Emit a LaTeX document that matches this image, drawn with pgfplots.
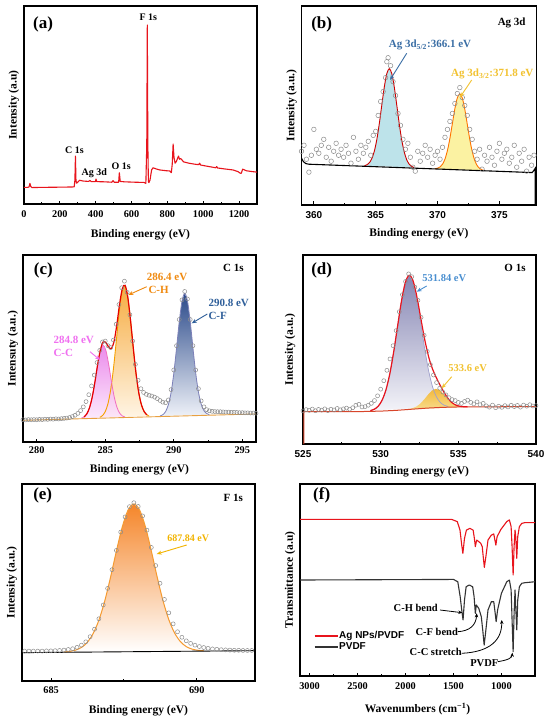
\documentclass[border=0pt]{standalone}
\usepackage{pgfplots}
\pgfplotsset{compat=1.18}
\usepackage{fontspec}
\setmainfont{Liberation Serif}
\newfontfamily\sansfont{Liberation Sans}
\usetikzlibrary{arrows.meta}

\definecolor{redA}{HTML}{E8141C}
\definecolor{circ}{HTML}{8C8C8C}
\definecolor{cyanF}{HTML}{BDE3EA}
\definecolor{yelF}{HTML}{FBF2A2}
\definecolor{blueT}{HTML}{3A6EA5}
\definecolor{yelT}{HTML}{F2C230}
\definecolor{ccTop}{HTML}{E878E8}
\definecolor{ccBot}{HTML}{FCE6FC}
\definecolor{ccLine}{HTML}{F06EC0}
\definecolor{chTop}{HTML}{F6A42E}
\definecolor{chBot}{HTML}{FFF4E2}
\definecolor{chLine}{HTML}{F5A000}
\definecolor{cfTop}{HTML}{2B4A8A}
\definecolor{cfBot}{HTML}{EEF1F8}
\definecolor{cfLine}{HTML}{7C80B8}
\definecolor{baseO}{HTML}{E8A040}
\definecolor{ccT}{HTML}{F070F0}
\definecolor{chT}{HTML}{F08A10}
\definecolor{cfT}{HTML}{2F5F9A}
\definecolor{oTop}{HTML}{8686B4}
\definecolor{oBot}{HTML}{F3F3F8}
\definecolor{oLine}{HTML}{A0A0CC}
\definecolor{o2Top}{HTML}{F2B83A}
\definecolor{o2Bot}{HTML}{F8DC8C}
\definecolor{oBase}{HTML}{D8452A}
\definecolor{oBlueT}{HTML}{4A8FD0}
\definecolor{fTop}{HTML}{F5862A}
\definecolor{fLine}{HTML}{F59A30}
\definecolor{fT}{HTML}{F2B400}
\definecolor{darkL}{HTML}{333333}

\newcommand\labfont{\bfseries\fontsize{11.5}{13}\selectfont}
\newcommand\tickfont{\bfseries\fontsize{10.3}{12}\selectfont}
\newcommand\stickfont{\sansfont\bfseries\fontsize{10}{12}\selectfont}
\newcommand\ann[1]{\bfseries\fontsize{#1}{#1}\selectfont}

\pgfplotsset{
  panel/.style={
    scale only axis, anchor=south west, ymin=0, ymax=100,
    axis line style={line width=1.3pt},
    tick align=inside, xtick pos=left, ytick=\empty,
    minor x tick num=1,
    major tick length=3.5pt, minor tick length=2pt,
    tick style={black, line width=0.9pt},
    scaled x ticks=false,
    /pgf/number format/1000 sep={},
    /pgf/number format/assume math mode=true,
    xticklabel style={font=\tickfont},
    xlabel style={font=\labfont},
    ylabel style={font=\labfont, at={([xshift=-10pt]axis description cs:0,0.5)}, anchor=center},
    clip=true,
  },
  xlab/.style={xlabel style={at={([yshift=-#1]axis description cs:0.5,0)}, anchor=center}},
  tlab/.style={xticklabel style={yshift=-#1}},
  dots/.style={only marks, mark=o, mark size=#1, mark options={draw=circ, line width=0.5pt}},
}

\begin{document}
\begin{tikzpicture}
\path[use as bounding box, fill=white] (0,0) rectangle (550pt,-722pt);

% ---------------- (a) ----------------
\begin{axis}[panel, at={(24pt,-204pt)}, width=233pt, height=198pt,
  xmin=0, xmax=1300, xtick={0,200,...,1200}, xlab=31pt, tlab=3pt,
  xlabel={Binding energy (eV)}, ylabel={Intensity (a.u)}]
\addplot[color=redA, line width=1.1pt, line join=round] coordinates {
(0,8.4) (20,8.4) (28,8.6) (33,10.4) (38,8.8) (45,8.3) (100,8.4) (200,8.5) (270,8.6)
(280,8.7) (284,12) (287,24.2) (290,12) (293,10.5) (300,11.0) (310,12.0) (330,11.6)
(360,11.4) (368,11.9) (375,11.3) (398,11.3) (402,12.6) (406,11.3) (450,11.2) (490,11.0)
(497,11.8) (503,11.0) (528,11.0) (532,15.8) (537,11.4) (560,11.2) (620,11.0) (670,10.9)
(680,10.4) (685,30) (688,90.4) (691,30) (694,11.3) (697,10.8) (703,12.1) (712,17.2)
(720,18.3) (738,17.7) (757,17.2) (794,16.8) (813,16.7) (822,15.8) (827,20) (832,30.3)
(837,23.5) (843,20.6) (850,21.5) (857,23.1) (862,24.2) (868,22.6) (874,23.0) (880,22.4)
(890,21.3) (920,20.6) (960,20.0) (975,19.9) (980,20.6) (985,19.7) (1020,19.1) (1070,18.3)
(1075,18.9) (1080,18.2) (1120,17.7) (1166,17.2) (1195,16.3) (1205,15.6) (1212,15.5)
(1220,17.6) (1228,17.3) (1240,16.8) (1270,16.4) (1300,16.1)};
\end{axis}

% ---------------- (b) ----------------
\begin{axis}[panel, at={(301.5pt,-205pt)}, width=235pt, height=199pt,
  xmin=359, xmax=378, xtick={360,365,370,375}, xlab=29pt, tlab=3pt,
  xticklabel style={font=\stickfont},
  xlabel={Binding energy (eV)}, ylabel={Intensity (a.u.)}]
\addplot[draw=none, fill=cyanF] coordinates {
(364.1,19.76) (364.3,20.23) (364.5,21.32) (364.7,23.50) (364.9,27.32) (365.1,33.27)
(365.3,41.29) (365.5,50.60) (365.7,59.51) (365.9,66.09) (366.1,68.48) (366.3,66.00)
(366.5,59.32) (366.7,50.32) (366.9,40.92) (367.1,32.80) (367.3,26.77) (367.5,22.85)
(367.7,20.58) (367.9,19.40) (368.1,18.83)};
\addplot[draw=none, fill=yelF] coordinates {
(369.8,18.27) (370.0,18.49) (370.2,19.12) (370.4,20.49) (370.6,23.09) (370.8,27.40)
(371.0,33.54) (371.2,40.99) (371.4,48.35) (371.6,53.84) (371.8,55.86) (372.0,53.75)
(372.2,48.16) (372.4,40.71) (372.6,33.17) (372.8,26.94) (373.0,22.54) (373.2,19.84)
(373.4,18.38) (373.6,17.66) (373.8,17.34)};
\addplot[color=red!80!black, line width=0.9pt, smooth] coordinates {
(364.1,19.76) (364.3,20.23) (364.5,21.32) (364.7,23.50) (364.9,27.32) (365.1,33.27)
(365.3,41.29) (365.5,50.60) (365.7,59.51) (365.9,66.09) (366.1,68.48) (366.3,66.00)
(366.5,59.32) (366.7,50.32) (366.9,40.92) (367.1,32.80) (367.3,26.77) (367.5,22.85)
(367.7,20.58) (367.9,19.40) (368.1,18.83)};
\addplot[color=orange!90!red, line width=0.9pt, smooth] coordinates {
(369.8,18.27) (370.0,18.49) (370.2,19.12) (370.4,20.49) (370.6,23.09) (370.8,27.40)
(371.0,33.54) (371.2,40.99) (371.4,48.35) (371.6,53.84) (371.8,55.86) (372.0,53.75)
(372.2,48.16) (372.4,40.71) (372.6,33.17) (372.8,26.94) (373.0,22.54) (373.2,19.84)
(373.4,18.38) (373.6,17.66) (373.8,17.34)};
\addplot[color=black, line width=1.1pt] coordinates {
(359.0,23.5) (359.15,21.8) (359.35,20.8) (359.6,20.5) (377.65,16.3) (377.8,17.5) (377.9,18.5) (377.9,0)};
\addplot[dots=2.3pt] coordinates {
(359.0,27) (359.2,30) (359.4,23) (359.6,16.5) (359.8,25) (360.0,38) (360.2,28) (360.4,26)
(360.6,30) (360.8,33) (361.0,24) (361.2,29) (361.4,22) (361.6,27) (361.8,31) (362.0,25)
(362.2,28) (362.4,24) (362.6,30) (362.8,26) (363.0,21) (363.2,34) (363.4,27) (363.6,23)
(363.8,30) (364.0,26) (364.2,29) (364.4,32) (364.6,25) (364.8,35) (365.0,37) (365.2,45)
(365.4,52) (365.6,57) (365.8,64) (365.9,72) (366.0,74) (366.2,70) (366.4,62) (366.6,55)
(366.8,46) (367.0,40) (367.2,33) (367.4,28) (367.6,31) (367.8,24) (368.0,19) (368.2,17)
(368.4,27) (368.6,22) (368.8,26) (369.0,30) (369.2,24) (369.4,28) (369.6,21) (369.8,25)
(370.0,27) (370.2,23) (370.4,29) (370.6,34) (370.8,38) (371.0,42) (371.2,46) (371.4,51)
(371.6,56) (371.8,59) (372.0,54) (372.2,50) (372.4,45) (372.6,38) (372.8,33) (373.0,27)
(373.2,23) (373.4,28) (373.6,18) (373.8,25) (374.0,22) (374.2,29) (374.4,24) (374.6,20)
(374.8,27) (375.0,31) (375.2,23) (375.4,26) (375.6,28) (375.8,21) (376.0,24) (376.2,30)
(376.4,19) (376.6,26) (376.8,22) (377.0,28) (377.2,17) (377.4,24) (377.6,20) (377.8,25)};
\end{axis}

% ---------------- (c) ----------------
\begin{axis}[panel, at={(23pt,-442pt)}, width=233pt, height=187pt,
  xmin=279, xmax=296, xtick={280,285,290,295}, xlab=27.6pt, tlab=1.5pt,
  xlabel={Binding energy (eV)}, ylabel={Intensuty (a.u.)}]
\addplot[draw=none, top color=chTop, bottom color=chBot, fill opacity=0.9] coordinates {
(284.6,13.20) (284.8,14.13) (285.0,16.25) (285.2,20.52) (285.4,28.04) (285.6,39.29)
(285.8,53.50) (286.0,68.13) (286.2,79.31) (286.4,83.58) (286.6,79.39) (286.8,68.29)
(287.0,53.74) (287.2,39.61) (287.4,28.44) (287.6,21.00) (287.8,16.81) (288.0,14.77) (288.2,13.92)};
\addplot[draw=none, top color=ccTop, bottom color=ccBot, fill opacity=0.85] coordinates {
(283.25,12.73) (283.45,13.39) (283.65,14.98) (283.85,18.26) (284.05,24.00) (284.25,32.15)
(284.45,41.36) (284.65,48.84) (284.85,51.77) (285.05,48.92) (285.25,41.52) (285.45,32.39)
(285.65,24.32) (285.85,18.66) (286.05,15.46) (286.25,13.95) (286.45,13.37)};
\addplot[draw=none, top color=cfTop, bottom color=cfBot] coordinates {
(289.0,13.91) (289.2,14.59) (289.4,16.25) (289.6,19.79) (289.8,26.29) (290.0,36.56)
(290.2,49.99) (290.4,64.26) (290.6,75.32) (290.8,79.56) (291.0,75.40) (291.2,64.42)
(291.4,50.23) (291.6,36.88) (291.8,26.69) (292.0,20.27) (292.2,16.81) (292.4,15.23) (292.6,14.63)};
\addplot[color=chLine, line width=0.9pt, smooth] coordinates {
(284.6,13.20) (284.8,14.13) (285.0,16.25) (285.2,20.52) (285.4,28.04) (285.6,39.29)
(285.8,53.50) (286.0,68.13) (286.2,79.31) (286.4,83.58) (286.6,79.39) (286.8,68.29)
(287.0,53.74) (287.2,39.61) (287.4,28.44) (287.6,21.00) (287.8,16.81) (288.0,14.77) (288.2,13.92)};
\addplot[color=ccLine, line width=0.8pt, smooth] coordinates {
(283.25,12.73) (283.45,13.39) (283.65,14.98) (283.85,18.26) (284.05,24.00) (284.25,32.15)
(284.45,41.36) (284.65,48.84) (284.85,51.77) (285.05,48.92) (285.25,41.52) (285.45,32.39)
(285.65,24.32) (285.85,18.66) (286.05,15.46) (286.25,13.95) (286.45,13.37)};
\addplot[color=cfLine, line width=0.8pt, smooth] coordinates {
(289.0,13.91) (289.2,14.59) (289.4,16.25) (289.6,19.79) (289.8,26.29) (290.0,36.56)
(290.2,49.99) (290.4,64.26) (290.6,75.32) (290.8,79.56) (291.0,75.40) (291.2,64.42)
(291.4,50.23) (291.6,36.88) (291.8,26.69) (292.0,20.27) (292.2,16.81) (292.4,15.23) (292.6,14.63)};
\addplot[color=baseO, line width=0.9pt] coordinates {(279,11.6) (296,15.0)};
\addplot[color=red!90!black, line width=1.2pt, smooth] coordinates {
(283.45,13.39) (283.65,14.98) (283.85,18.26) (284.05,24.0) (284.25,32.21) (284.45,41.56)
(284.65,49.48) (284.85,53.52) (285.05,53.19) (285.25,50.73) (285.45,49.98) (285.65,54.0)
(285.85,62.93) (286.05,73.86) (286.25,82.05) (286.45,83.77) (286.65,77.2) (286.85,64.77)
(287.05,50.01) (287.25,36.45) (287.45,26.19) (287.65,19.70) (287.85,16.15) (288.05,14.48)};
\addplot[dots=2pt] coordinates {
(279.0,11.9) (279.2,11.8) (279.4,12.0) (279.6,11.9) (279.8,12.0) (280.0,11.9) (280.2,12.1)
(280.4,12.0) (280.6,12.2) (280.8,12.1) (281.0,12.3) (281.2,12.2) (281.4,12.4) (281.6,12.3)
(281.8,12.5) (282.0,12.6) (282.2,12.8) (282.4,13.1) (282.6,13.6) (282.8,14.3) (283.0,15.3)
(283.2,16.8) (283.4,18.8) (283.6,21.6) (283.8,25.3) (284.0,30.0) (284.2,35.8) (284.4,42.5)
(284.6,49.0) (284.8,53.5) (285.0,54.0) (285.2,51.5) (285.4,50.5) (285.6,54.5) (285.8,63.0)
(286.0,73.5) (286.2,82.5) (286.4,86.0) (286.6,80.0) (286.8,68.0) (287.0,54.0) (287.2,41.5)
(287.4,33.0) (287.6,28.5) (287.8,26.5) (288.0,25.5) (288.2,25.0) (288.4,24.6) (288.6,24.0)
(288.8,23.2) (289.0,22.2) (289.2,21.3) (289.4,21.0) (289.6,22.5) (289.8,28.0) (290.0,38.5)
(290.2,51.5) (290.4,65.5) (290.6,76.0) (290.8,80.5) (291.0,76.5) (291.2,65.5) (291.4,51.5)
(291.6,38.5) (291.8,28.5) (292.0,22.0) (292.2,18.8) (292.4,17.3) (292.6,16.7) (292.8,16.4)
(293.0,16.3) (293.2,16.2) (293.4,16.2) (293.6,16.1) (293.8,16.0) (294.0,16.0) (294.2,15.9)
(294.4,15.9) (294.6,15.8) (294.8,15.7) (295.0,15.7) (295.2,15.6) (295.4,15.6) (295.6,15.5)
(295.8,15.5) (296.0,15.4)};
\end{axis}

% ---------------- (d) ----------------
\begin{axis}[panel, at={(303pt,-444pt)}, width=233pt, height=189pt,
  xmin=525, xmax=540, xtick={525,530,535,540}, xlab=28pt, tlab=3pt,
  xticklabel style={font=\stickfont},
  ylabel style={at={([xshift=-13pt]axis description cs:0,0.5)}},
  xlabel={Binding energy (eV)}, ylabel={Intensity (a.u.)}]
\addplot[draw=none, top color=oTop, bottom color=oBot] coordinates {
(529.34,17.67) (529.59,18.40) (529.84,19.98) (530.09,23.15) (530.34,28.64) (530.59,37.22)
(530.84,48.85) (531.09,62.38) (531.34,75.65) (531.59,85.42) (531.84,89.10) (532.09,85.72)
(532.34,76.25) (532.59,63.39) (532.84,50.11) (533.09,38.62) (533.34,30.24) (533.59,24.95)
(533.84,21.98) (534.09,20.52) (534.34,19.89)};
\addplot[draw=none, top color=o2Top, bottom color=o2Bot] coordinates {
(531.55,18.26) (531.80,18.52) (532.05,18.97) (532.30,19.82) (532.55,21.32) (532.80,23.56)
(533.05,26.09) (533.30,28.29) (533.55,29.22) (533.80,28.49) (534.05,26.49) (534.30,24.05)
(534.55,22.01) (534.80,20.71) (535.05,20.04) (535.30,19.75) (535.55,19.66)};
\addplot[color=oLine, line width=0.7pt, smooth] coordinates {
(529.34,17.67) (529.59,18.40) (529.84,19.98) (530.09,23.15) (530.34,28.64) (530.59,37.22)
(530.84,48.85) (531.09,62.38) (531.34,75.65) (531.59,85.42) (531.84,89.10) (532.09,85.72)
(532.34,76.25) (532.59,63.39) (532.84,50.11) (533.09,38.62) (533.34,30.24) (533.59,24.95)
(533.84,21.98) (534.09,20.52) (534.34,19.89)};
\addplot[color=oBase, line width=1pt] coordinates {
(525.06,0) (525.06,17.1) (529,17.2) (530,17.4) (531,17.8) (532,18.4) (533,19.0) (534,19.4) (535,19.6) (540,19.8)};
\addplot[color=redA, line width=1.2pt, smooth] coordinates {
(529.34,17.67) (529.59,18.40) (529.84,19.98) (530.09,23.15) (530.34,28.64) (530.59,37.22)
(530.84,48.85) (531.09,62.38) (531.34,75.66) (531.59,85.47) (531.84,89.27) (532.09,86.24)
(532.34,77.56) (532.59,66.17) (532.84,55.07) (533.09,46.07) (533.34,39.64) (533.59,34.95)
(533.84,30.88) (534.09,27.19) (534.34,24.09) (534.59,21.89) (534.84,20.59) (535.09,19.97)
(535.34,19.73) (535.6,19.65)};
\addplot[dots=2pt] coordinates {
(525.0,17.5) (525.2,18.2) (525.4,17.8) (525.6,18.5) (525.8,17.6) (526.0,18.3) (526.2,17.9)
(526.4,18.6) (526.6,17.7) (526.8,18.4) (527.0,18.0) (527.2,18.8) (527.4,18.1) (527.6,18.6)
(527.8,19.0) (528.0,18.4) (528.2,19.2) (528.4,20.5) (528.6,21.0) (528.8,19.6) (529.0,19.8)
(529.2,20.5) (529.4,21.5) (529.6,23.0) (529.8,25.5) (530.0,29) (530.2,33.5) (530.4,39)
(530.6,45) (530.8,52) (531.0,60) (531.2,70) (531.4,79) (531.6,86) (531.8,90) (532.0,88.5)
(532.2,83) (532.4,76) (532.6,67) (532.8,57.5) (533.0,49) (533.2,42) (533.4,36.5) (533.6,32.5)
(533.8,29.5) (534.0,27.5) (534.2,26) (534.4,24.5) (534.6,23.5) (534.8,23) (535.0,22)
(535.2,21.5) (535.4,22.5) (535.6,23.2) (535.8,22.0) (536.0,21.2) (536.2,22.3) (536.4,20.8)
(536.6,21.5) (536.8,20.2) (537.0,19.5) (537.2,20.6) (537.4,19.2) (537.6,20.0) (537.8,19.4)
(538.0,20.3) (538.2,19.6) (538.4,20.5) (538.6,19.8) (538.8,20.4) (539.0,19.5) (539.2,20.6)
(539.4,20.0) (539.6,20.8) (539.8,20.1) (540.0,20.3)};
\end{axis}

% ---------------- (e) ----------------
\begin{axis}[panel, at={(22pt,-681pt)}, width=233pt, height=197pt,
  xmin=684, xmax=692, xtick={685,690}, xlab=30pt, tlab=2pt,
  xlabel={Binding energy (eV)}, ylabel={Intensity (a.u.)}]
\addplot[draw=none, top color=fTop, bottom color=white] coordinates {
(685.44,14.75) (685.64,15.04) (685.84,15.69) (686.04,17.03) (686.24,19.58) (686.44,24.01)
(686.64,30.86) (686.84,40.56) (687.04,52.66) (687.24,65.89) (687.44,78.06) (687.64,86.71)
(687.84,89.88) (688.04,86.76) (688.24,78.16) (688.44,66.04) (688.64,52.86) (688.84,40.81)
(689.04,31.16) (689.24,24.36) (689.44,19.98) (689.64,17.48) (689.84,16.19) (690.04,15.59) (690.24,15.35)};
\addplot[color=fLine, line width=1pt, smooth] coordinates {
(685.44,14.75) (685.64,15.04) (685.84,15.69) (686.04,17.03) (686.24,19.58) (686.44,24.01)
(686.64,30.86) (686.84,40.56) (687.04,52.66) (687.24,65.89) (687.44,78.06) (687.64,86.71)
(687.84,89.88) (688.04,86.76) (688.24,78.16) (688.44,66.04) (688.64,52.86) (688.84,40.81)
(689.04,31.16) (689.24,24.36) (689.44,19.98) (689.64,17.48) (689.84,16.19) (690.04,15.59) (690.24,15.35)};
\addplot[color=black, line width=0.9pt] coordinates {(684,14.4) (692,15.4)};
\addplot[dots=2pt] coordinates {
(684.09,15.2) (684.24,15.2) (684.39,15.2) (684.54,15.2) (684.69,15.2) (684.84,15.3) (684.99,15.3)
(685.14,15.4) (685.29,15.5) (685.44,15.7) (685.59,16.0) (685.74,16.4) (685.89,17.1) (686.04,18.2)
(686.19,19.9) (686.34,22.5) (686.49,26.3) (686.64,31.6) (686.79,38.6) (686.94,47.0) (687.09,56.5)
(687.24,66.3) (687.39,75.6) (687.54,83.3) (687.69,88.5) (687.84,90.5) (687.99,88.6) (688.14,83.8)
(688.29,76.6) (688.44,67.8) (688.59,58.6) (688.74,49.6) (688.89,41.4) (689.04,34.6) (689.19,29.0)
(689.34,25.0) (689.49,22.2) (689.64,20.4) (689.79,19.1) (689.94,18.2) (690.09,17.5) (690.24,17.0)
(690.39,16.6) (690.54,16.3) (690.69,16.1) (690.84,15.9) (690.99,15.8) (691.14,15.7) (691.29,15.6)
(691.44,15.6) (691.59,15.5) (691.74,15.5) (691.89,15.5)};
\end{axis}

% ---------------- (f) ----------------
\begin{axis}[panel, at={(300pt,-676pt)}, width=235pt, height=192pt,
  xmin=650, xmax=3100, x dir=reverse, xtick={1000,1500,2000,2500,3000}, xlab=33pt, tlab=3pt,
  xlabel={Wavenumbers (cm\textsuperscript{−1})}, ylabel={Transmittance (a.u)},
  legend cell align=left,
  legend style={at={(0.045,0.18)}, anchor=west, draw=none, fill=none,
    font=\sansfont\bfseries\fontsize{10}{10}\selectfont, row sep=1.2pt,
    nodes={inner sep=0.6pt}},
  legend image code/.code={\draw[#1, line width=1.8pt] (0pt,0pt) -- (23pt,0pt);}]
\addplot[color=redA, line width=1.1pt, line join=round] coordinates {
(3100,81.6) (1520,81.6) (1460,80.4) (1432,76.0) (1414,68.2) (1402,63.9) (1385,71.7) (1365,76.0)
(1330,76.9) (1295,76.0) (1282,71.7) (1272,67.4) (1258,70.8) (1236,70.0) (1216,69.1) (1200,67.4)
(1190,62.2) (1178,56.6) (1162,62.2) (1140,70.8) (1105,73.4) (1080,74.0) (1068,70.8) (1058,68.2)
(1045,72.6) (1005,76.4) (945,80.4) (917,81.3) (899,77.8) (889,67.4) (878,52.6) (868,67.4)
(858,76.0) (851,72.6) (840,61.3) (830,72.6) (813,77.8) (788,79.5) (753,79.9) (650,79.9)};
\addlegendentry{Ag NPs/PVDF}
\addplot[color=darkL, line width=1.1pt, line join=round] coordinates {
(3100,50.0) (1500,50.3) (1455,49.1) (1430,41.3) (1414,34.4) (1400,29.2) (1385,39.6) (1368,46.5)
(1335,47.4) (1300,46.5) (1285,41.3) (1272,32.6) (1262,37.0) (1236,35.2) (1210,30.9) (1195,24.0)
(1180,16.1) (1162,24.0) (1140,34.4) (1105,38.7) (1080,38.7) (1065,32.6) (1055,28.3) (1040,34.4)
(1000,43.1) (944,49.1) (917,50.0) (899,44.8) (889,29.2) (878,12.7) (868,32.6) (858,44.8)
(851,36.1) (840,24.0) (830,39.6) (813,46.5) (788,48.3) (753,48.6) (650,49.1)};
\addlegendentry{PVDF}
\end{axis}

% ---------------- annotations ----------------
\begin{scope}[every node/.style={inner sep=0pt}]
% panel letters
\node[font=\ann{17}] at (43pt,-24pt) {(a)};
\node[font=\ann{17}] at (321.7pt,-24pt) {(b)};
\node[font=\ann{17}] at (43.3pt,-270.7pt) {(c)};
\node[font=\ann{17}] at (321.7pt,-270pt) {(d)};
\node[font=\ann{17}] at (42.7pt,-495pt) {(e)};
\node[font=\ann{17}] at (321.7pt,-495pt) {(f)};
% (a)
\node[font=\ann{10}] at (148.3pt,-17.3pt) {F 1s};
\node[font=\ann{10}] at (74.5pt,-150pt) {C 1s};
\node[font=\ann{10}] at (94.2pt,-172.7pt) {Ag 3d};
\node[font=\ann{10}] at (121.2pt,-166pt) {O 1s};
% (b)
\node[font=\ann{11}] at (511.7pt,-22.7pt) {Ag 3d};
\node[font=\ann{11}, text=blueT] at (430pt,-45pt) {Ag 3d\textsubscript{5/2}:366.1 eV};
\draw[blueT, line width=0.9pt, -{Stealth[length=5pt,width=4pt]}] (406.7pt,-53.3pt) -- (390pt,-80pt);
\node[font=\ann{11}, text=yelT] at (492.3pt,-74pt) {Ag 3d\textsubscript{3/2}:371.8 eV};
\draw[yelT, line width=0.9pt, -{Stealth[length=5pt,width=4pt]}] (471.7pt,-80pt) -- (460pt,-97.3pt);
% (c)
\node[font=\ann{11}] at (233.3pt,-268.3pt) {C 1s};
\node[font=\ann{11}, text=chT, anchor=west] at (146.7pt,-276.7pt) {286.4 eV};
\node[font=\ann{11}, text=chT, anchor=west] at (148.3pt,-290pt) {C-H};
\draw[chT, line width=0.9pt, -{Stealth[length=5pt,width=4pt]}] (146.7pt,-286.7pt) -- (128.3pt,-295pt);
\node[font=\ann{11}, text=cfT, anchor=west] at (208.3pt,-303.3pt) {290.8 eV};
\node[font=\ann{11}, text=cfT, anchor=west] at (208.3pt,-316pt) {C-F};
\draw[cfT, line width=0.9pt, -{Stealth[length=5pt,width=4pt]}] (207.3pt,-314pt) -- (191.7pt,-323.3pt);
\node[font=\ann{11}, text=ccT, anchor=west] at (53.3pt,-340pt) {284.8 eV};
\node[font=\ann{11}, text=ccT, anchor=west] at (53.3pt,-353.3pt) {C-C};
\draw[ccT, line width=0.9pt, -{Stealth[length=5pt,width=4pt]}] (90pt,-351.7pt) -- (100pt,-360pt);
% (d)
\node[font=\ann{11}] at (515pt,-268.3pt) {O 1s};
\node[font=\ann{10.5}, text=oBlueT] at (444.3pt,-278.3pt) {531.84 eV};
\draw[oBlueT, line width=0.9pt, -{Stealth[length=5pt,width=4pt]}] (426.7pt,-286pt) -- (416.7pt,-291.7pt);
\node[font=\ann{10.5}, text=yelT] at (467.7pt,-368.3pt) {533.6 eV};
\draw[yelT, line width=0.9pt, -{Stealth[length=5pt,width=4pt]}] (451.7pt,-376.7pt) -- (441.7pt,-388.3pt);
% (e)
\node[font=\ann{11}] at (233.3pt,-498pt) {F 1s};
\node[font=\ann{10}, text=fT] at (188.3pt,-538.3pt) {687.84 eV};
\draw[fT, line width=0.9pt, -{Stealth[length=5pt,width=4pt]}] (186.7pt,-545pt) -- (156.7pt,-554pt);
% (f)
\node[font=\ann{10.5}] at (415.7pt,-608.3pt) {C-H bend};
\draw[black, line width=0.8pt, -{Stealth[length=4pt,width=3.5pt]}] (440pt,-610pt) -- (462.3pt,-612.7pt);
\node[font=\ann{10.5}] at (436.7pt,-631.7pt) {C-F bend};
\draw[black, line width=0.8pt, -{Stealth[length=4pt,width=3.5pt]}] (457.7pt,-631.7pt) .. controls (470pt,-631pt) and (476pt,-625pt) .. (476.7pt,-613.3pt);
\node[font=\ann{10.5}] at (435.7pt,-651.7pt) {C-C stretch};
\draw[black, line width=0.8pt, -{Stealth[length=4pt,width=3.5pt]}] (461.7pt,-653.3pt) .. controls (490pt,-652pt) and (502pt,-640pt) .. (501.7pt,-620pt);
\node[font=\ann{10.5}] at (484.3pt,-662.7pt) {PVDF};
\draw[black, line width=0.8pt, -{Stealth[length=4pt,width=3.5pt]}] (497.7pt,-661.7pt) .. controls (508pt,-660pt) and (512pt,-658pt) .. (512.3pt,-652.7pt);
\end{scope}
\end{tikzpicture}
\end{document}
